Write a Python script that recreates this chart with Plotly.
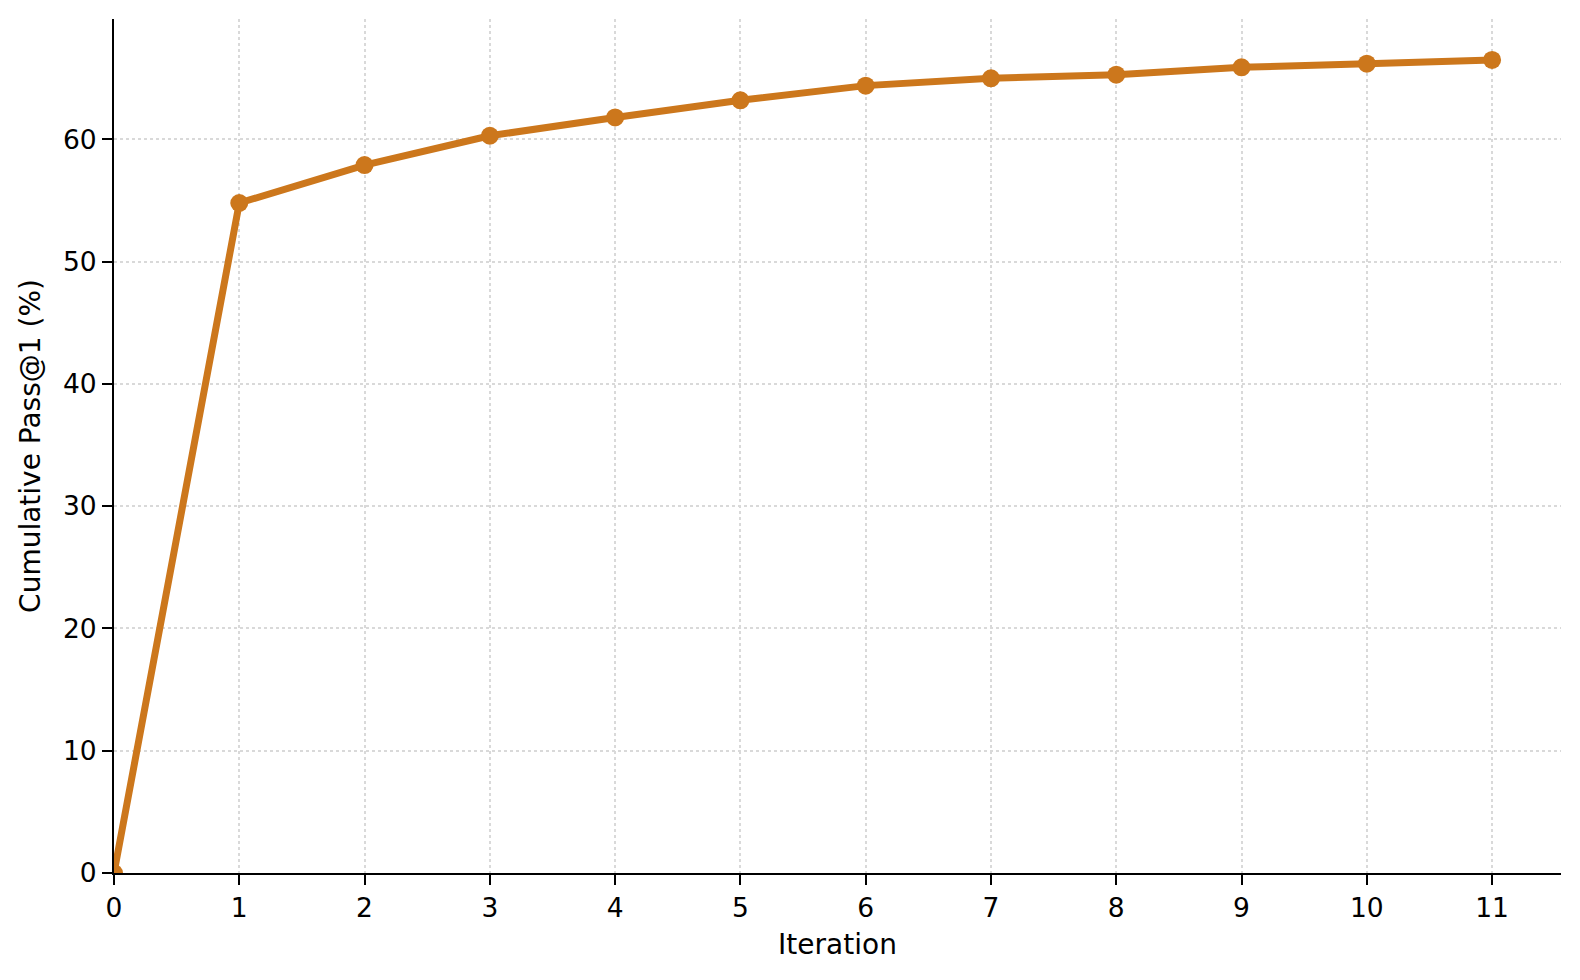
import plotly.graph_objects as go

iterations = [0, 1, 2, 3, 4, 5, 6, 7, 8, 9, 10, 11]
pass_at_1 = [0.0, 54.8, 57.9, 60.3, 61.8, 63.2, 64.4, 65.0, 65.3, 65.9, 66.2, 66.5]
y_ticks = [0, 10, 20, 30, 40, 50, 60]

color = '#CC771C'
font = dict(family="DejaVu Sans, sans-serif", size=23, color="black")
tick_font = dict(family="DejaVu Sans, sans-serif", size=26.5, color="black")

fig = go.Figure()
fig.add_trace(go.Scatter(
    x=iterations, y=pass_at_1, mode='lines+markers',
    line=dict(color=color, width=7),
    marker=dict(color=color, size=18),
    showlegend=False
))

# page body has an 8px margin, so shrink the figure to fit the window
fig.update_layout(
    width=1572, height=972,
    margin=dict(l=106, r=19, t=11, b=107),
    plot_bgcolor='white',
    paper_bgcolor='white',
    font=font
)
fig.update_xaxes(
    title=dict(text="Iteration", standoff=13),
    range=[0, 11.55], tickmode='array', tickvals=iterations,
    tickfont=tick_font,
    showline=True, linecolor='black', linewidth=2,
    ticks='outside', ticklen=10, tickwidth=2, tickcolor='black',
    showgrid=True, gridcolor='#d9d9d9', griddash='dot', gridwidth=1.5,
    zeroline=False
)
fig.update_yaxes(
    title=dict(text="Cumulative Pass@1 (%)", standoff=14),
    range=[0, 69.85], tickmode='array', tickvals=y_ticks,
    tickfont=tick_font,
    showline=True, linecolor='black', linewidth=2,
    ticks='outside', ticklen=10, tickwidth=2, tickcolor='black',
    showgrid=True, gridcolor='#d9d9d9', griddash='dot', gridwidth=1.5,
    zeroline=False
)

fig.write_html("out.html")
